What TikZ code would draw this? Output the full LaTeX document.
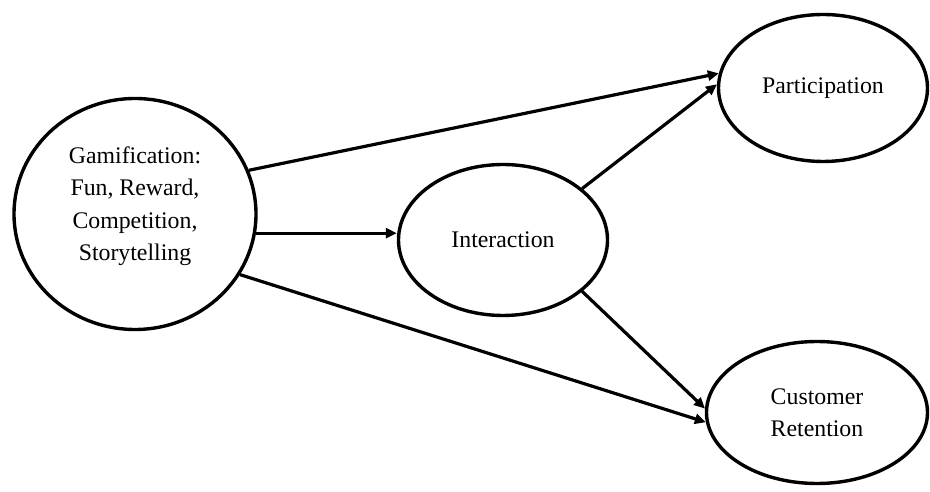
\documentclass[tikz,border=0pt]{standalone}
\usepackage{fontspec}
\setmainfont{Liberation Serif}
\usetikzlibrary{shapes.geometric,arrows.meta}
\begin{document}
\begin{tikzpicture}[x=1pt,y=1pt,
  oval/.style={ellipse,draw=black,line width=3.4pt,inner sep=0pt,align=center,
    font=\fontsize{23.8}{32.5}\selectfont},
  txt/.style={align=center,inner sep=0pt,font=\fontsize{23.8}{32.5}\selectfont},
  arr/.style={line width=3.2pt,-{Triangle[length=11pt,width=10pt]}}]
\useasboundingbox (0,0) rectangle (930,492);
\node[oval,minimum width=242,minimum height=231] (g) at (135,278) {};
\node[txt] (gt) at (135,286) {Gamification:\\Fun, Reward,\\Competition,\\Storytelling};
\node[oval,minimum width=209,minimum height=151] (i) at (503,252) {Interaction};
\node[oval,minimum width=209,minimum height=147] (p) at (823,404) {Participation};
\node[oval,minimum width=221,minimum height=142] (r) at (817,79.5) {Customer\\Retention};
\coordinate (gi) at (g.-9);
\draw[arr] (g.21) -- (p.172);
\draw[arr] (i.33) -- (p.178.4);
\draw[arr] (gi) -- (i.west |- gi);
\draw[arr] (g.-30.3) -- (r.185);
\draw[arr] (i.-33.9) -- (r.178.7);
\end{tikzpicture}
\end{document}
